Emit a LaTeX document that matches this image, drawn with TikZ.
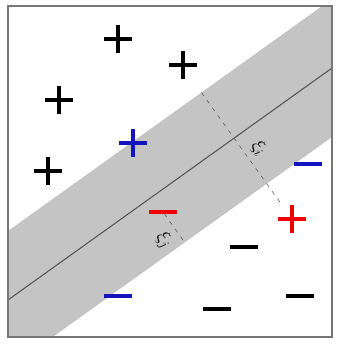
\documentclass[tikz,border=0pt]{standalone}
\usetikzlibrary{calc}
\definecolor{darkgrey}{RGB}{85,85,85}
\definecolor{bandgrey}{RGB}{196,196,196}
\definecolor{ptblue}{RGB}{20,20,190}
\definecolor{ptred}{RGB}{240,0,0}
\tikzset{
    plussign/.style={minimum size=21pt,inner sep=0pt,
        path picture={\draw[line width=2.3pt,#1]
            (path picture bounding box.west) -- (path picture bounding box.east)
            (path picture bounding box.north) -- (path picture bounding box.south);}},
    minussign/.style={minimum width=21pt,minimum height=2.3pt,inner sep=0pt,fill=#1},
    slack/.style={darkgrey,dash pattern=on 3pt off 4pt},
    slacklabel/.style={sloped,text=black,font=\Large},
}

\begin{document}
\begin{tikzpicture}[x=0.75pt,y=-0.75pt]
                \useasboundingbox (0,0) rectangle (340,345);
                % separating line and its margins
                \coordinate (c1) at (-100,377.3);
                \coordinate (c2) at (440,-9.3);
                \coordinate (u1) at ($(c1)+(0,-69)$);
                \coordinate (u2) at ($(c2)+(0,-69)$);
                \coordinate (l1) at ($(c1)+(0,69)$);
                \coordinate (l2) at ($(c2)+(0,69)$);
                \begin{scope}
                    \clip (8,6) rectangle (332,337);
                    \fill[bandgrey] (u1) -- (u2) -- (l2) -- (l1) -- cycle;
                    \draw[darkgrey,line width=0.8pt] (c1) -- (c2);
                \end{scope}
                \draw[darkgrey!80,line width=0.8pt] (8,6) rectangle (332,337);
                % positive class
                \node[plussign=black] (pa) at (118,39) {};
                \node[plussign=black] (pb) at (183,65) {};
                \node[plussign=black] (pc) at (59,100) {};
                \node[plussign=black] (pd) at (48,171) {};
                \node[plussign=ptblue] (pe) at (133,143) {};
                \node[plussign=ptred] (pf) at (292,219) {};
                % negative class
                \node[minussign=ptblue] (ma) at (308,164) {};
                \node[minussign=ptblue] (mb) at (118,296) {};
                \node[minussign=ptred] (mc) at (163,212) {};
                \node[minussign=black] (md) at (244,247) {};
                \node[minussign=black] (me) at (217,309) {};
                \node[minussign=black] (mf) at (300,296) {};
                % slack distances
                \draw[slack] ($(u1)!(pf)!(u2)$) -- (pf)
                    node[pos=0.57,slacklabel,above=1pt] {$\xi_i$};
                \draw[slack] (mc) -- ($(l1)!(mc)!(l2)$)
                    node[pos=0.6,slacklabel,below=1pt] {$\xi_j$};
            \end{tikzpicture}
\end{document}
